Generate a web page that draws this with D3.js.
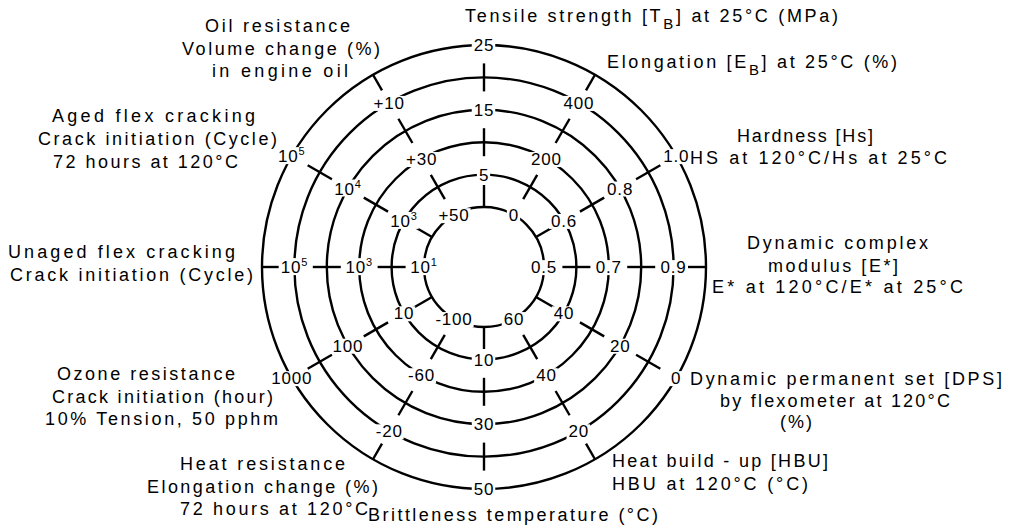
<!DOCTYPE html>
<html>
<head>
<meta charset="utf-8">
<script src="https://d3js.org/d3.v7.min.js"></script>
<style>
  body { margin: 0; padding: 0; background: #fff; overflow: hidden; }
  text { font-family: "Liberation Sans", Arial, Helvetica, sans-serif; fill: #000; }
</style>
</head>
<body>
<div id="chart"></div>
<script>
// 12 property axes, clockwise from the top
var axisKeys = ["TB", "EB", "Hs", "Estar", "DPS", "HBU", "Tb", "HeatRes", "Ozone", "Unaged", "Aged", "Oil"];

// tick labels and their values on every axis
var tickLabels = [
  ["5", "15", "25"],
  ["0", "200", "400"],
  ["0.6", "0.8", "1.0"],
  ["0.5", "0.7", "0.9"],
  ["40", "20", "0"],
  ["60", "40", "20"],
  ["10", "30", "50"],
  ["-100", "-60", "-20"],
  ["10", "100", "1000"],
  ["10^1", "10^3", "10^5"],
  ["10^3", "10^4", "10^5"],
  ["+50", "+30", "+10"]
];
var tickValues = [
  [5, 15, 25],
  [0, 200, 400],
  [0.6, 0.8, 1.0],
  [0.5, 0.7, 0.9],
  [40, 20, 0],
  [60, 40, 20],
  [10, 30, 50],
  [-100, -60, -20],
  [10, 100, 1000],
  [1e1, 1e3, 1e5],
  [1e3, 1e4, 1e5],
  [50, 30, 10]
];
// value at the inner ring and at the outer ring
var axisDomains = [
  [0, 25], [0, 500], [0.5, 1.0], [0.5, 1.0], [50, 0], [60, 10],
  [0, 50], [-100, 0], [Math.pow(10, 0.5), 1000], [10, 1e6], [Math.pow(10, 2.5), 1e5], [50, 0]
];
var axisLog = [false, false, false, false, false, false, false, false, true, true, true, false];

// axis titles (lines of text)
var axisTitles = [
  ["Tensile strength [T|B|] at 25°C (MPa)"],
  ["Elongation [E|B|] at 25°C (%)"],
  ["Hardness [Hs]", "HS at 120°C/Hs at 25°C"],
  ["Dynamic complex", "modulus [E*]", "E* at 120°C/E* at 25°C"],
  ["Dynamic permanent set [DPS]", "by flexometer at 120°C", "(%)"],
  ["Heat build - up [HBU]", "HBU at 120°C (°C)"],
  ["Brittleness temperature (°C)"],
  ["Heat resistance", "Elongation change (%)", "72 hours at 120°C"],
  ["Ozone resistance", "Crack initiation (hour)", "10% Tension, 50 pphm"],
  ["Unaged flex cracking", "Crack initiation (Cycle)"],
  ["Aged flex cracking", "Crack initiation (Cycle)", "72 hours at 120°C"],
  ["Oil resistance", "Volume change (%)", "in engine oil"]
];

// where each title line sits: [left x, baseline y, width]
var titlePlace = [
  [[465, 22, 373]],
  [[607, 68, 290]],
  [[737, 142, 136], [690, 164, 257]],
  [[747, 249, 181], [768, 272, 130], [712, 293, 251]],
  [[690, 385, 312], [720, 407, 230], [780, 428, 32]],
  [[612, 467, 216], [612, 490, 196]],
  [[368, 521, 290]],
  [[180, 470, 165], [147, 493, 231], [180, 515, 188]],
  [[57, 380, 178], [52, 403, 221], [45, 425, 233]],
  [[8, 258, 227], [10, 281, 243]],
  [[52, 122, 203], [38, 145, 239], [53, 168, 185]],
  [[205, 32, 145], [182, 55, 198], [212, 77, 136]]
];

var width = 1011, height = 529;
var cx = 484, cy = 267;
var rings = d3.range(6);

var rScale = d3.scaleLinear().domain([0, 5]).range([60, 222]);
var angle = d3.scaleLinear().domain([0, axisKeys.length]).range([0, 2 * Math.PI]);

function pt(a, r) { return [r * Math.sin(a), -r * Math.cos(a)]; }

var svg = d3.select("#chart").append("svg")
  .attr("width", width)
  .attr("height", height);

var g = svg.append("g").attr("transform", "translate(" + cx + "," + cy + ")");

// concentric rings
g.selectAll("circle.ring")
  .data(rings)
  .join("circle")
  .attr("class", "ring")
  .attr("r", d => rScale(d))
  .attr("fill", "none")
  .attr("stroke", "#000")
  .attr("stroke-width", 2.4);

var tickG = g.append("g");
var labelG = g.append("g");

axisKeys.forEach(function(key, i) {
  var s = (axisLog[i] ? d3.scaleLog() : d3.scaleLinear())
    .domain(axisDomains[i])
    .range([rScale(0), rScale(5)]);
  var a = angle(i);
  var labelled = tickValues[i].map(v => Math.round(rScale.invert(s(v))));

  // small ticks on the rings that carry no label
  rings.filter(k => labelled.indexOf(k) < 0).forEach(function(k) {
    var r = rScale(k), r1 = r - 14, r2 = r + 14;
    if (k === 0) { r1 = r; r2 = r + 22; }
    if (k === 5) { r1 = r - 18; r2 = r; }
    var p1 = pt(a, r1), p2 = pt(a, r2);
    tickG.append("line")
      .attr("x1", p1[0]).attr("y1", p1[1])
      .attr("x2", p2[0]).attr("y2", p2[1])
      .attr("stroke", "#000")
      .attr("stroke-width", 2.4);
  });

  // tick labels on a white patch that breaks the ring
  tickValues[i].forEach(function(v, j) {
    var p = pt(a, s(v));
    var lab = tickLabels[i][j];
    var lg = labelG.append("g");
    var bg = lg.append("rect").attr("fill", "#fff");
    var t = lg.append("text")
      .attr("x", p[0]).attr("y", p[1])
      .attr("text-anchor", "middle")
      .attr("dy", "0.36em")
      .attr("font-size", 17)
      .attr("letter-spacing", 0.8);
    if (lab.indexOf("^") > 0) {
      var parts = lab.split("^");
      t.append("tspan").text(parts[0]);
      t.append("tspan").attr("font-size", 11).attr("dy", -7).text(parts[1]);
    } else {
      t.text(lab);
    }
    var bb = t.node().getBBox();
    bg.attr("x", bb.x - 2).attr("y", bb.y + 2)
      .attr("width", bb.width + 3).attr("height", bb.height - 4);
  });
});

// axis titles
axisTitles.forEach(function(lines, i) {
  lines.forEach(function(line, j) {
    var pl = titlePlace[i][j];
    var t = svg.append("text")
      .attr("x", pl[0]).attr("y", pl[1])
      .attr("font-size", 18)
      .attr("textLength", pl[2])
      .attr("lengthAdjust", "spacing");
    if (line.indexOf("|") >= 0) {
      var parts = line.split("|");
      t.append("tspan").text(parts[0]);
      t.append("tspan").attr("font-size", 15).attr("dy", 7).text(parts[1]);
      t.append("tspan").attr("dy", -7).text(parts[2]);
    } else {
      t.text(line);
    }
  });
});
</script>
</body>
</html>
